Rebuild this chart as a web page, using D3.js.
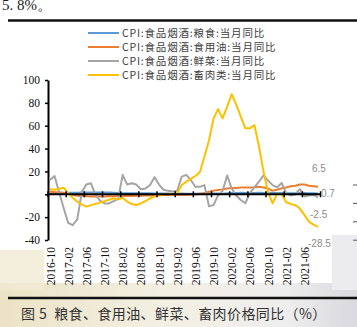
<!DOCTYPE html>
<html><head><meta charset="utf-8">
<script src="https://cdn.jsdelivr.net/npm/d3@7/dist/d3.min.js"></script>
<style>html,body{margin:0;padding:0;background:#fff;overflow:hidden}</style>
</head><body><svg id="c" width="357" height="327"></svg>
<script>
const months = ["2016-10","2016-11","2016-12","2017-01","2017-02","2017-03","2017-04","2017-05","2017-06","2017-07","2017-08","2017-09","2017-10","2017-11","2017-12",
"2018-01","2018-02","2018-03","2018-04","2018-05","2018-06","2018-07","2018-08","2018-09","2018-10","2018-11","2018-12",
"2019-01","2019-02","2019-03","2019-04","2019-05","2019-06","2019-07","2019-08","2019-09","2019-10","2019-11","2019-12",
"2020-01","2020-02","2020-03","2020-04","2020-05","2020-06","2020-07","2020-08","2020-09","2020-10","2020-11","2020-12",
"2021-01","2021-02","2021-03","2021-04","2021-05","2021-06","2021-07","2021-08","2021-09"];
const grain = [0.5,0.8,1.0,1.2,1.3,1.4,1.4,1.5,1.5,1.6,1.5,1.6,1.5,1.5,1.4,1.2,1.0,1.0,0.9,0.9,0.8,0.8,0.8,0.7,0.6,0.6,0.7,0.5,0.5,0.6,0.5,0.5,0.5,0.6,0.5,0.7,0.6,0.7,0.5,0.8,1.1,1.2,1.3,1.2,1.2,1.2,1.3,1.2,1.3,1.4,1.1,1.1,1.0,1.0,1.0,1.1,1.1,1.0,0.9,0.7];
const oil = [2.3,2.0,1.8,1.4,0.5,-0.5,-1.2,-1.5,-1.8,-2.0,-2.0,-2.0,-2.0,-1.8,-1.8,-1.6,-1.5,-1.5,-1.4,-1.3,-1.2,-1.0,-1.0,-0.8,-0.8,-0.6,-0.6,-0.5,-0.5,-0.4,-0.3,-0.2,0.0,0.3,1.2,2.2,3.2,3.8,4.3,5.0,5.4,5.6,6.0,6.0,6.0,6.2,6.5,6.0,5.0,3.2,4.0,5.2,6.0,7.0,7.5,8.5,8.5,7.5,7.0,6.5];
const veg = [12.5,16,2,-12,-25,-27,-22,2,8.5,9.6,0,-5.5,-8,-8,-6,-4,17,8.5,9.6,8.5,4.4,5,8,15,8.5,4,3,2.5,3,15.5,17,12.5,6.6,6.5,8,-10.5,-9.5,-1,3,16.5,5,-1,-5,-7.9,1,6,11,16.5,12,8,6,10,1,-1,0,4.5,-2,-1,-0.6,-2.5];
const meat = [4.4,4.0,4.8,5.8,1.0,-3,-6.5,-9,-10.8,-9.5,-8.5,-7.3,-6,-4.8,-3.5,-4.5,-3.0,-6.5,-8.5,-9.4,-8.0,-6.0,-3.5,-2.0,-1.0,0,0.5,-0.5,1,8,11,13.5,16,19.5,33,47,66.4,74.5,66.4,76.7,87.6,78.5,68,57.7,57.7,60.6,42,20,2,-8,0.5,0,-7,-8.5,-9.5,-12.5,-18,-24,-26.5,-28.5];
const seriesNames = ["CPI:食品烟酒:粮食:当月同比","CPI:食品烟酒:食用油:当月同比","CPI:食品烟酒:鲜菜:当月同比","CPI:食品烟酒:畜肉类:当月同比"];
const seriesColors = ["#5B9BD5","#ED7D31","#A5A5A5","#FFC000"];
const yTicks = [-40,-20,0,20,40,60,80,100];
const endLabels = ["0.7","6.5","-2.5","-28.5"];
const endLabelShift = [0,-18,17,17];
const caption = "图 5  粮食、食用油、鲜菜、畜肉价格同比（%）";
const topText = "5. 8%。";

const series = [grain, oil, veg, meat];
const svg = d3.select("#c");

// background (scanned page tint)
const defs = svg.append("defs");
const g1 = defs.append("linearGradient").attr("id","bot").attr("x1","0").attr("x2","1").attr("y1","0").attr("y2","0");
g1.append("stop").attr("offset","0").attr("stop-color","#ece3c6");
g1.append("stop").attr("offset","0.45").attr("stop-color","#f3efe2");
g1.append("stop").attr("offset","0.8").attr("stop-color","#eeeeee");
g1.append("stop").attr("offset","1").attr("stop-color","#d9d9de");
svg.append("rect").attr("width",357).attr("height",327).attr("fill","#fff");
svg.append("rect").attr("x",0).attr("y",283).attr("width",357).attr("height",44).attr("fill","url(#bot)");
svg.append("rect").attr("x",0).attr("y",250).attr("width",44).attr("height",40).attr("fill","#f1ead4").attr("opacity",0.8);
svg.append("rect").attr("x",332).attr("y",235).attr("width",25).attr("height",55).attr("fill","#ececef");

// top text and rules
svg.append("text").attr("x",2).attr("y",10).attr("font-family","Liberation Serif, serif").attr("font-size",15).attr("fill","#222").text(topText);
svg.append("line").attr("x1",8).attr("x2",357).attr("y1",20.5).attr("y2",20.5).attr("stroke","#111").attr("stroke-width",2.5);
svg.append("line").attr("x1",8).attr("x2",357).attr("y1",298).attr("y2",298).attr("stroke","#111").attr("stroke-width",2.5);
svg.append("text").attr("x",21).attr("y",319).attr("font-family","Noto Sans CJK SC").attr("font-size",14)
  .attr("letter-spacing",0.4).style("white-space","pre").attr("fill","#333").text(caption);

const x = d3.scalePoint().domain(months).range([50,318]);
const y = d3.scaleLinear().domain([-40,100]).range([240,80]);

// y axis
const ya = svg.append("g").attr("transform","translate(48,0)")
  .call(d3.axisLeft(y).tickValues(yTicks).tickSize(3).tickSizeOuter(0).tickPadding(5).tickFormat(d => d === 0 ? "" : d));
ya.select(".domain").attr("stroke","#000").attr("stroke-width",2);
ya.selectAll(".tick line").attr("stroke","#000").attr("stroke-width",1.5);
ya.selectAll(".tick text").attr("font-family","Liberation Serif, serif").attr("font-size",11.5).attr("fill","#111");

// lines
const line = d3.line().x((d,i) => x(months[i])).y(d => y(d)).curve(d3.curveLinear);
const lg = svg.append("g");
series.forEach((s,k) => {
  lg.append("path").datum(s).attr("d",line).attr("fill","none")
    .attr("stroke",seriesColors[k]).attr("stroke-width",2).attr("stroke-linejoin","round");
});

// x axis at zero
const step = x.step();
const y0 = y(0);
svg.append("line").attr("x1",48).attr("x2",x(months[months.length-1])+2).attr("y1",y0).attr("y2",y0).attr("stroke","#000").attr("stroke-width",2);
const tickMonths = months.filter((m,i) => i % 4 === 0);
const tickXs = tickMonths.map(m => x(m) - 2).concat([x(tickMonths[tickMonths.length-1]) + 4*step - 2]);
svg.append("g").selectAll("line").data(tickXs).join("line")
  .attr("x1",d=>d).attr("x2",d=>d).attr("y1",y0-3).attr("y2",y0+3).attr("stroke","#000").attr("stroke-width",1.5);
svg.append("g").selectAll("text").data(tickMonths).join("text")
  .attr("transform", m => `translate(${x(m)+0.5},247) rotate(-90)`)
  .attr("text-anchor","end").attr("dy","0.35em")
  .attr("font-family","Liberation Serif, serif").attr("font-size",11.5).attr("fill","#111")
  .text(m => m);

// end labels
const endLabelX = [321,312,310,308];
series.forEach((s,k) => {
  svg.append("text").attr("x", endLabelX[k])
    .attr("y", y(s[s.length-1]) + endLabelShift[k]).attr("dy","0.35em")
    .attr("font-family","Liberation Sans, Arial").attr("font-size",10).attr("fill","#8c8c8c")
    .text(endLabels[k]);
});
// right edge marks
svg.append("g").selectAll("line").data([0,-20,-40,-60]).join("line")
  .attr("x1",353).attr("x2",357).attr("y1",d=>185 + (-d)*0.92).attr("y2",d=>185 + (-d)*0.92)
  .attr("stroke","#555").attr("stroke-width",1);

// legend
const leg = svg.append("g");
seriesNames.forEach((n,k) => {
  const ly = 33 + k*14;
  leg.append("line").attr("x1",88).attr("x2",119).attr("y1",ly).attr("y2",ly).attr("stroke",seriesColors[k]).attr("stroke-width",2);
  leg.append("text").attr("x",122).attr("y",ly).attr("dy","0.35em")
    .attr("font-family","Noto Sans CJK SC").attr("font-size",10.5).attr("letter-spacing",0.8).attr("fill","#404040").text(n);
});
</script></body></html>
